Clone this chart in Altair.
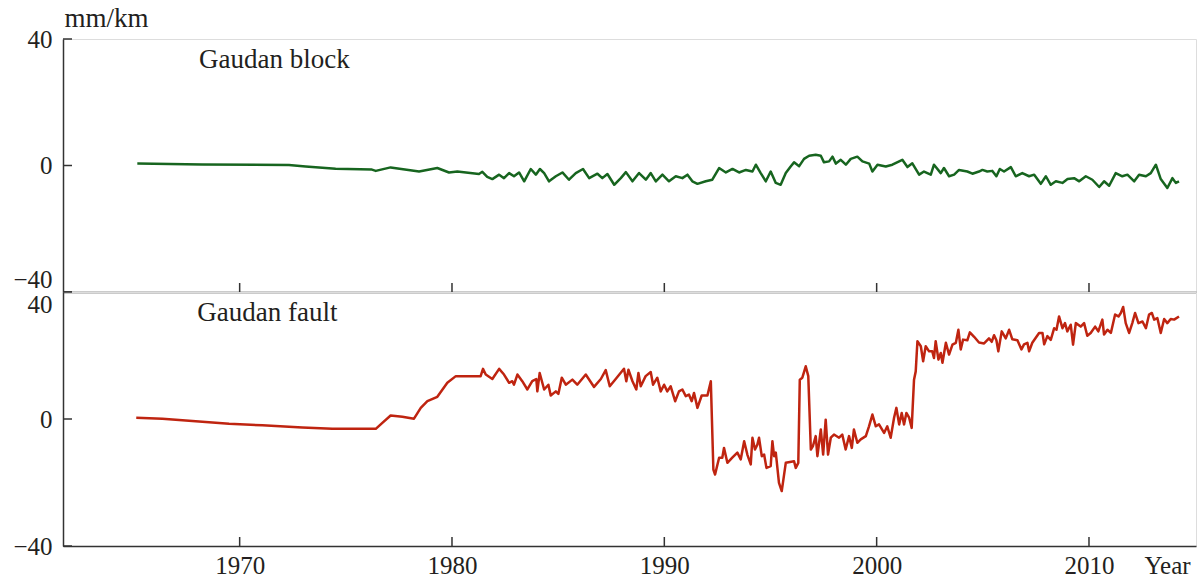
import altair as alt
import pandas as pd

# ---------------- data ----------------
block_years = [1965.18, 1968.23, 1972.32, 1973.11, 1974.52, 1976.23, 1976.41, 1977.11, 1978.45, 1979.31,
               1979.86, 1980.25, 1981.27, 1981.43, 1981.66, 1981.90, 1982.22, 1982.45, 1982.69, 1982.92,
               1983.16, 1983.40, 1983.71, 1983.95, 1984.14, 1984.34, 1984.57, 1984.89, 1985.20, 1985.51,
               1985.83, 1986.17, 1986.46, 1986.85, 1987.08, 1987.32, 1987.64, 1987.95, 1988.19, 1988.50,
               1988.81, 1989.13, 1989.36, 1989.60, 1989.91, 1990.22, 1990.54, 1990.85, 1991.09, 1991.32,
               1991.56, 1991.95, 1992.26, 1992.58, 1992.90, 1993.21, 1993.52, 1993.84, 1994.15, 1994.31,
               1994.54, 1994.78, 1995.01, 1995.25, 1995.48, 1995.72, 1995.95, 1996.11, 1996.35, 1996.58,
               1996.82, 1997.13, 1997.37, 1997.52, 1997.76, 1997.92, 1998.08, 1998.31, 1998.55, 1998.78,
               1999.09, 1999.33, 1999.65, 1999.80, 2000.04, 2000.43, 2000.74, 2001.06, 2001.21, 2001.45,
               2001.68, 2002.00, 2002.23, 2002.55, 2002.70, 2003.02, 2003.17, 2003.41, 2003.65, 2003.88,
               2004.27, 2004.51, 2004.82, 2004.98, 2005.21, 2005.45, 2005.64, 2005.80, 2006.00, 2006.32,
               2006.55, 2006.86, 2007.18, 2007.42, 2007.73, 2007.97, 2008.20, 2008.44, 2008.75, 2008.99,
               2009.30, 2009.54, 2009.85, 2010.16, 2010.48, 2010.71, 2010.95, 2011.26, 2011.57, 2011.81,
               2012.13, 2012.36, 2012.68, 2012.91, 2013.15, 2013.38, 2013.69, 2013.93, 2014.09, 2014.24]
block_values = [0.6, 0.35, 0.15, -0.3, -1.0, -1.3, -1.7, -0.6, -1.9, -0.8,
                -2.2, -1.9, -2.7, -2.0, -3.6, -4.3, -2.9, -4.0, -2.4, -3.4,
                -2.2, -5.0, -1.1, -2.9, -1.1, -2.4, -5.0, -3.4, -2.2, -4.5,
                -2.4, -1.1, -4.0, -2.6, -4.0, -2.7, -6.1, -4.0, -2.1, -5.0,
                -2.4, -4.5, -2.4, -5.0, -2.9, -5.0, -3.4, -4.0, -2.9, -5.0,
                -5.8, -5.0, -4.5, -0.8, -2.2, -1.1, -2.2, -1.4, -1.9, 0.25,
                -2.4, -5.0, -1.9, -5.5, -6.1, -2.4, -0.3, 1.0, -0.2, 2.1,
                3.1, 3.4, 3.1, 1.0, 1.3, 2.8, 0.6, 1.8, 0.25, 2.1,
                2.8, 1.3, 0.6, -1.9, 0.25, -0.3, 0.25, 1.3, 1.8, -0.5,
                0.7, -2.9, -1.9, -2.9, 0.25, -2.4, -0.8, -3.4, -2.9, -1.4,
                -1.9, -2.6, -1.9, -1.4, -1.9, -1.7, -3.4, -1.1, -1.9, -0.5,
                -3.4, -2.4, -3.4, -2.9, -5.8, -3.4, -6.1, -5.0, -5.5, -4.3,
                -4.0, -5.0, -3.4, -4.5, -6.8, -5.0, -6.4, -2.4, -3.4, -2.9,
                -5.0, -2.9, -3.4, -2.4, 0.25, -4.3, -7.1, -4.0, -5.5, -5.0]

fault_years = [1965.13, 1966.36, 1967.93, 1969.50, 1971.07, 1972.95, 1974.36, 1976.41, 1976.72, 1977.11,
               1977.66, 1978.21, 1978.53, 1978.84, 1979.31, 1979.78, 1980.18, 1981.35, 1981.46, 1981.59,
               1981.90, 1982.22, 1982.45, 1982.69, 1982.84, 1982.92, 1983.08, 1983.31, 1983.55, 1983.78,
               1983.97, 1984.02, 1984.13, 1984.34, 1984.54, 1984.65, 1984.89, 1985.01, 1985.17, 1985.36,
               1985.67, 1985.90, 1986.30, 1986.69, 1987.01, 1987.24, 1987.43, 1987.71, 1988.10, 1988.21,
               1988.31, 1988.50, 1988.68, 1988.78, 1988.89, 1989.12, 1989.36, 1989.47, 1989.67, 1989.83,
               1989.99, 1990.14, 1990.30, 1990.51, 1990.69, 1990.85, 1991.01, 1991.16, 1991.29, 1991.40,
               1991.56, 1991.76, 1992.03, 1992.19, 1992.31, 1992.39, 1992.58, 1992.73, 1992.81, 1992.97,
               1993.20, 1993.44, 1993.60, 1993.76, 1993.91, 1994.07, 1994.15, 1994.27, 1994.38, 1994.46,
               1994.59, 1994.70, 1994.81, 1995.01, 1995.09, 1995.17, 1995.25, 1995.40, 1995.53, 1995.72,
               1996.11, 1996.19, 1996.31, 1996.38, 1996.50, 1996.66, 1996.78, 1996.90, 1997.00, 1997.13,
               1997.21, 1997.37, 1997.48, 1997.60, 1997.71, 1997.84, 1997.99, 1998.23, 1998.38, 1998.54,
               1998.70, 1998.83, 1998.93, 1999.09, 1999.25, 1999.49, 1999.64, 1999.80, 1999.96, 2000.11,
               2000.35, 2000.50, 2000.66, 2000.82, 2000.93, 2001.06, 2001.18, 2001.29, 2001.40, 2001.53,
               2001.65, 2001.76, 2001.84, 2001.92, 2002.08, 2002.19, 2002.31, 2002.47, 2002.62, 2002.70,
               2002.78, 2002.91, 2003.02, 2003.10, 2003.26, 2003.41, 2003.57, 2003.73, 2003.85, 2003.96,
               2004.07, 2004.27, 2004.39, 2004.59, 2004.82, 2005.06, 2005.29, 2005.42, 2005.53, 2005.64,
               2005.73, 2005.89, 2006.08, 2006.24, 2006.39, 2006.63, 2006.82, 2006.94, 2007.10, 2007.18,
               2007.33, 2007.65, 2007.81, 2007.89, 2008.04, 2008.20, 2008.36, 2008.47, 2008.59, 2008.75,
               2008.87, 2008.98, 2009.14, 2009.25, 2009.38, 2009.61, 2009.77, 2009.92, 2010.08, 2010.29,
               2010.44, 2010.63, 2010.71, 2010.87, 2011.03, 2011.23, 2011.39, 2011.50, 2011.61, 2011.73,
               2011.89, 2012.04, 2012.17, 2012.33, 2012.52, 2012.68, 2012.83, 2012.96, 2013.07, 2013.22,
               2013.38, 2013.54, 2013.69, 2013.85, 2014.01, 2014.24]
fault_values = [0.4, 0.1, -0.7, -1.5, -2.0, -2.7, -3.1, -3.1, -1.2, 1.1,
                0.7, 0.1, 3.5, 5.6, 7.0, 11.4, 13.5, 13.5, 15.8, 14.0,
                12.6, 15.8, 14.0, 11.4, 11.9, 10.8, 14.0, 11.9, 9.3, 11.9,
                12.6, 8.7, 14.5, 9.3, 10.8, 7.4, 8.7, 7.9, 13.0, 10.8,
                12.4, 10.8, 14.0, 10.1, 12.6, 15.4, 10.3, 12.6, 15.8, 11.9,
                15.5, 11.9, 9.3, 14.5, 10.3, 13.5, 14.8, 10.8, 13.0, 8.7,
                10.8, 8.7, 10.3, 5.6, 8.7, 9.3, 7.2, 7.7, 5.6, 8.2,
                3.5, 7.4, 7.4, 11.9, -15.9, -17.5, -12.2, -12.2, -9.1, -13.8,
                -12.2, -10.6, -12.7, -7.0, -11.2, -14.3, -5.9, -9.6, -8.1, -5.9,
                -11.7, -11.2, -15.4, -14.8, -7.0, -11.7, -10.6, -20.1, -22.7, -13.8,
                -13.3, -15.4, -13.8, 12.4, 13.0, 16.6, 13.5, -9.6, -8.5, -5.4,
                -11.7, -3.3, -11.2, -0.2, -11.2, -5.9, -4.9, -5.9, -4.9, -9.6,
                -5.4, -9.1, -3.3, -7.5, -6.4, -5.4, -2.3, 1.4, -2.3, -1.7,
                -4.4, -2.3, -5.9, 0.4, 3.5, -1.7, 1.9, -1.7, 1.9, 0.4,
                -2.8, 12.4, 15.0, 24.5, 22.9, 18.2, 22.9, 21.3, 21.3, 19.2,
                24.5, 18.7, 20.8, 17.7, 24.0, 20.3, 23.4, 24.0, 28.1, 21.9,
                25.0, 24.8, 27.3, 25.9, 24.1, 23.8, 25.4, 24.3, 26.4, 24.8,
                21.3, 27.6, 25.4, 28.1, 25.1, 24.8, 21.9, 23.5, 24.0, 21.3,
                24.0, 27.1, 27.1, 23.5, 26.1, 24.9, 28.6, 28.1, 32.3, 28.6,
                30.2, 27.6, 29.7, 23.4, 30.2, 29.1, 30.2, 26.2, 27.1, 29.1,
                27.6, 31.3, 26.6, 28.1, 27.1, 32.9, 32.3, 33.4, 35.3, 30.2,
                27.1, 30.2, 33.4, 30.2, 30.7, 28.6, 32.9, 33.4, 31.3, 31.8,
                27.1, 31.5, 30.2, 31.5, 31.3, 32.3]

tick_years = [1970, 1980, 1990, 2000, 2010]
y_ticks = [-40, 0, 40]
panel_labels = ["Gaudan block", "Gaudan fault"]

# ---------------- styling / layout ----------------
X_DOMAIN = [1961.68, 2015.04]
Y_DOMAIN = [-40, 40]
W = 1133
H_TOP = 253
H_BOT = 254
FONT = "Liberation Serif"
AXIS_COLOR = "#333333"
TEXT_COLOR = "#231f20"
GREEN = "#17651f"
RED = "#bf2410"
TICK_LEN = 9
LINE_W = 2.5
LABEL_POS = {"Gaudan block": (1968.09, 30.9), "Gaudan fault": (1968.0, 30.75)}

x_scale = alt.Scale(domain=X_DOMAIN, nice=False, zero=False)
y_scale = alt.Scale(domain=Y_DOMAIN, nice=False, zero=False)


def panel(years, values, color, label, h, top):
    df = pd.DataFrame({"year": years, "value": values})
    if top:
        x_axis = alt.Axis(labels=False, ticks=False, grid=False, title=None,
                          domainColor=AXIS_COLOR, domainWidth=1.5)
        y_axis = alt.Axis(
            values=y_ticks, grid=False, ticks=False, domainColor=AXIS_COLOR, domainWidth=1.5,
            labelFont=FONT, labelFontSize=25, labelColor=TEXT_COLOR, labelPadding=11,
            labelBaseline={"condition": {"test": "datum.value == -40", "value": "bottom"},
                           "value": "middle"},
            title="mm/km", titleAngle=0, titleAlign="left", titleBaseline="alphabetic",
            titleX=1, titleY=-12.6, titleFont=FONT, titleFontSize=27,
            titleFontWeight="normal", titleColor=TEXT_COLOR,
        )
    else:
        x_axis = alt.Axis(
            values=tick_years, format="d", grid=False, ticks=False, domainColor=AXIS_COLOR,
            domainWidth=1.5, labelFont=FONT, labelFontSize=25, labelColor=TEXT_COLOR,
            labelBaseline="alphabetic", labelPadding=27.5,
            title="Year", titleAlign="left", titleBaseline="alphabetic", titleX=1081,
            titleY=27.5, titleFont=FONT, titleFontSize=25, titleFontWeight="normal",
            titleColor=TEXT_COLOR,
        )
        y_axis = alt.Axis(
            values=y_ticks, grid=False, ticks=False, domainColor=AXIS_COLOR, domainWidth=1.5,
            labelFont=FONT, labelFontSize=25, labelColor=TEXT_COLOR, labelPadding=11,
            labelBaseline={"condition": {"test": "datum.value == 40", "value": "top"},
                           "value": "middle"},
            title=None,
        )

    line = alt.Chart(df).mark_line(color=color, strokeWidth=LINE_W, strokeJoin="round").encode(
        x=alt.X("year:Q", scale=x_scale, axis=x_axis),
        y=alt.Y("value:Q", scale=y_scale, axis=y_axis),
    )
    xt = alt.Chart(pd.DataFrame({"year": tick_years})).mark_rule(
        color=AXIS_COLOR, strokeWidth=1.5).encode(
        x=alt.X("year:Q", scale=x_scale),
        y=alt.value(h - TICK_LEN), y2=alt.value(h),
    )
    yt = alt.Chart(pd.DataFrame({"value": y_ticks})).mark_rule(
        color=AXIS_COLOR, strokeWidth=1.5).encode(
        y=alt.Y("value:Q", scale=y_scale),
        x=alt.value(0), x2=alt.value(TICK_LEN),
    )
    lx, ly = LABEL_POS[label]
    txt = alt.Chart(pd.DataFrame({"year": [lx], "value": [ly], "label": [label]})).mark_text(
        align="left", baseline="alphabetic", font=FONT, fontSize=27, color=TEXT_COLOR).encode(
        x=alt.X("year:Q", scale=x_scale),
        y=alt.Y("value:Q", scale=y_scale),
        text="label:N",
    )
    return alt.layer(line, xt, yt, txt).properties(width=W, height=h)


top = panel(block_years, block_values, GREEN, panel_labels[0], H_TOP, True)
bottom = panel(fault_years, fault_values, RED, panel_labels[1], H_BOT, False)

chart = alt.vconcat(top, bottom, spacing=0, bounds="flush").properties(
    padding={"left": 12, "top": 3, "right": 0, "bottom": 0}
).configure_view(stroke=None).configure(background="white")

chart.save("out.html", embed_options={"renderer": "svg", "actions": False})
